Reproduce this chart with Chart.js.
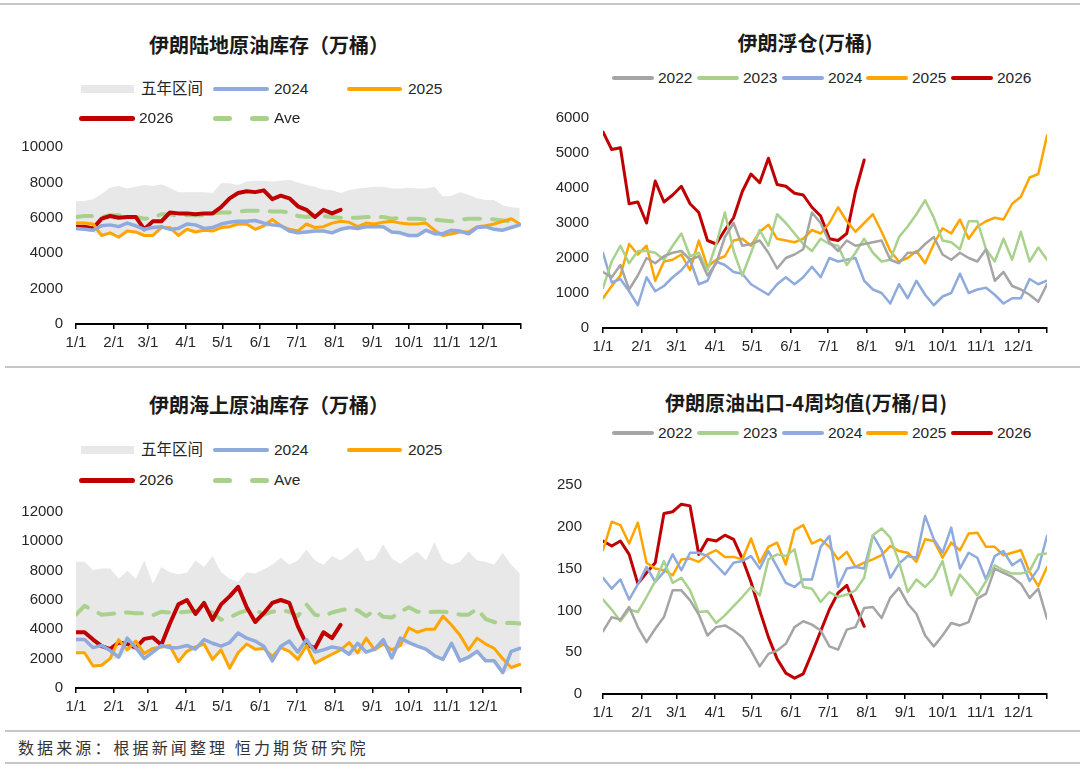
<!DOCTYPE html>
<html><head><meta charset="utf-8">
<script src="https://cdn.jsdelivr.net/npm/chart.js@4.4.1/dist/chart.umd.min.js"></script>
<style>
html,body{margin:0;padding:0;background:#fff;}
body{width:1080px;height:770px;position:relative;overflow:hidden;font-family:"Liberation Sans","Noto Sans CJK SC",sans-serif;color:#262626;}
.hl{position:absolute;left:5px;right:0;height:2px;background:#c6c6c6;}
.title{position:absolute;font-family:"Noto Sans CJK SC",sans-serif;font-weight:bold;font-size:20px;line-height:1;transform:translate(-50%,-50%);white-space:nowrap;color:#1a1a1a;}
.leg{position:absolute;font-family:"Liberation Sans","Noto Sans CJK SC",sans-serif;font-size:15.5px;line-height:1;transform:translateY(-50%);white-space:nowrap;color:#262626;}
.box{position:absolute;}
.src{position:absolute;left:18px;top:747px;transform:translateY(-50%);font-family:"Noto Sans CJK SC",sans-serif;font-size:16px;letter-spacing:3.1px;line-height:1;color:#333;white-space:nowrap;}
canvas{display:block;}
</style></head>
<body>
<div class="hl" style="top:3px;left:0"></div>
<div class="hl" style="top:366px"></div>
<div class="hl" style="top:730px"></div>
<div class="hl" style="top:762px"></div>

<div class="title" style="left:269px;top:45px">伊朗陆地原油库存（万桶）</div>
<div class="title" style="left:805px;top:43px">伊朗浮仓(万桶)</div>
<div class="title" style="left:269px;top:405px">伊朗海上原油库存（万桶）</div>
<div class="title" style="left:806px;top:403px">伊朗原油出口-4周均值(万桶/日)</div>
<div class="src">数据来源：根据新闻整理 恒力期货研究院</div>

<div class="box" style="left:0;top:125px"><canvas id="c1" width="540" height="240"></canvas></div>
<div class="box" style="left:545px;top:95px"><canvas id="c2" width="535" height="270"></canvas></div>
<div class="box" style="left:0;top:490px"><canvas id="c3" width="540" height="240"></canvas></div>
<div class="box" style="left:545px;top:455px"><canvas id="c4" width="535" height="275"></canvas></div>

<script>
// ---------- axis labels ----------
const monthLabels = ['1/1','2/1','3/1','4/1','5/1','6/1','7/1','8/1','9/1','10/1','11/1','12/1'];
const monthDays = [31,28,31,30,31,30,31,31,30,31,30,31];

// ---------- 伊朗陆地原油库存（万桶） weekly ----------
const landRangeMin = [5300,5250,5200,4950,5050,4850,5150,5100,4950,4950,5350,5300,4950,5300,5150,5250,5200,5350,5400,5550,5550,5250,5450,5500,5450,5150,5050,5100,5150,5150,5050,5250,5350,5300,5400,5400,5400,5100,5050,4900,4900,5200,5000,4900,5000,5100,5000,5350,5400,5250,5200,5350,5500];
const landRangeMax = [6950,6950,7050,7350,7700,7800,7650,7750,7850,7800,7900,7700,7450,7450,7450,7450,7400,7950,7950,7850,8050,8100,8100,8050,8100,8150,8000,7850,7750,7600,7550,7400,7550,7650,7700,7750,7750,7650,7650,7700,7650,7650,7750,7200,7250,7450,7300,7100,7000,7000,6700,6600,6550];
const land2024 = [5400,5350,5300,5550,5600,5500,5700,5550,5350,5450,5500,5350,5400,5650,5600,5400,5450,5650,5750,5800,5800,5850,5700,5600,5550,5250,5150,5200,5250,5250,5150,5350,5450,5400,5500,5500,5500,5200,5150,5000,5000,5300,5100,5100,5300,5250,5100,5450,5500,5350,5300,5450,5600];
const land2025 = [5700,5700,5650,5000,5150,4900,5250,5200,5000,5000,5450,5450,5000,5350,5200,5300,5250,5450,5500,5650,5650,5350,5550,5900,5550,5350,5250,5650,5450,5500,5700,5800,5750,5500,5700,5650,5750,5800,5700,5650,5650,5700,5300,5000,5100,5200,5200,5500,5550,5650,5800,5950,5650];
const land2026 = [5500,5500,5400,5950,6100,6000,6050,6050,5350,5800,5800,6300,6250,6250,6200,6250,6250,6600,7100,7400,7500,7450,7550,7050,7250,7100,6650,6450,6050,6450,6250,6450];
const landAve = [6050,6100,6100,6050,6150,6150,6000,6050,5950,6000,6200,6200,6100,6150,6150,6150,6250,6300,6300,6350,6400,6400,6400,6350,6350,6300,6100,6050,6100,6100,6050,6000,6000,6000,6050,6050,6050,5950,6000,5950,5950,5900,5900,5850,5800,5900,5950,5950,5950,5900,5850,5800,5700];

// ---------- 伊朗海上原油库存（万桶） weekly ----------
const seaRangeMin = [2300,2300,1400,1450,1900,2000,2500,2650,1900,2350,2700,2650,1700,2400,2550,2900,1850,2500,1250,2300,2900,2550,2600,1750,2650,2400,1850,2800,1600,1900,2200,2500,2200,2300,2350,2500,2900,1950,2800,3000,2750,2550,2100,1850,2950,1750,2000,2400,1750,1750,950,1300,1500];
const seaRangeMax = [8600,8600,8050,8150,8150,7450,8000,7450,8700,7100,8250,7900,7750,7850,8700,8250,9000,7900,7450,7250,7900,7800,8100,8400,8900,8400,8700,9450,8700,8400,9000,8700,9100,9600,8650,8800,9800,8850,8450,8900,9300,8700,9950,8700,8400,8600,9300,8700,8600,8400,9200,8400,7800];
const sea2024 = [3300,3300,2750,2900,2550,2100,3400,2750,2000,2450,2900,2750,2750,2900,2650,3300,3050,2850,3100,3750,3400,3200,2850,1850,2850,3200,2450,3300,2450,2600,2800,2700,2300,3050,2450,2650,3300,2050,3400,3100,2850,2650,2200,1950,3050,1850,2100,2500,1850,1850,1050,2500,2700];
const sea2025 = [2400,2400,1500,1550,2000,3300,2600,3200,2350,2700,2800,2900,1800,2500,2800,3000,1950,2600,1350,2400,3000,2650,2700,2150,2750,2500,1950,2900,1700,2000,2300,2600,3100,2400,3400,2600,3000,2600,2900,4100,3800,4000,4000,4900,4300,3600,2600,3400,3000,2700,2000,1400,1600];
const sea2026 = [3800,3800,3300,2850,2650,3100,3000,2750,3350,3450,2950,4400,5700,6000,5050,5800,4650,5700,6250,6900,5500,4500,5100,5800,6000,5800,4200,3000,2700,3800,3400,4300];
const seaAve = [5000,5600,5300,5000,5050,5100,5150,5100,5100,4950,5200,5150,5150,5200,5250,5300,5150,4650,4800,5100,5300,5350,5000,5200,5300,5200,4900,5700,5000,4900,5150,5300,5400,5300,4900,5300,4850,4800,5200,5500,5200,5150,5200,5200,5150,5000,5000,5400,4700,4500,4400,4450,4400];

// ---------- 伊朗浮仓（万桶） weekly ----------
const float2022 = [1600,1450,1800,1100,1500,2000,1850,2050,2150,2200,1950,2050,1500,1850,2600,3000,2350,2400,2500,2150,1700,2000,2100,2250,3300,3000,2450,2200,2500,2350,2400,2450,2500,1950,1850,2150,2150,2400,2600,2100,1950,2150,2000,1900,2250,1350,1600,1200,1100,950,750,1250];
const float2023 = [1150,1900,2350,1850,2200,2200,2150,1950,2350,2700,2050,2150,1650,2400,3300,2200,1500,2150,2800,2350,3250,3000,2700,2400,2200,2550,2400,2350,1800,2150,2550,2150,1900,1950,2600,2900,3250,3650,3150,2500,2450,2250,3050,3050,2250,1900,2550,1950,2750,1900,2300,1950];
const float2024 = [2150,1300,1400,1050,650,1450,1050,1200,1450,1650,1950,1250,1350,1900,1800,1600,1550,1250,1100,950,1250,1450,1250,1450,1750,1450,2000,1900,1950,2000,1350,1100,1000,700,1250,850,1350,950,650,900,1000,1550,1000,1100,1150,950,700,850,850,1400,1250,1350];
const float2025 = [850,1200,1500,2400,2100,2350,1350,1900,1950,2100,1650,2500,1750,1950,2050,2500,2550,2350,2750,2950,2550,2500,2450,2550,2800,2700,3000,3450,3050,2750,3000,3250,2750,2200,1900,2000,2200,1850,2400,2850,2700,3100,2550,2900,3050,3150,3100,3550,3750,4300,4400,5500];
const float2026 = [5600,5100,5150,3550,3600,3000,4200,3600,3800,4050,3550,3300,2500,2400,2800,3150,3900,4400,4150,4850,4100,4050,3850,3800,3450,3200,2550,2500,2700,3900,4800];

// ---------- 伊朗原油出口-4周均值（万桶/日） weekly ----------
const exp2022 = [75,92,89,104,80,62,78,92,124,124,112,95,70,80,82,76,68,52,33,48,52,60,80,87,83,76,57,53,77,80,103,104,91,115,127,108,96,70,57,70,85,82,86,114,120,150,145,140,132,115,126,90];
const exp2023 = [113,101,87,101,98,116,135,159,133,139,124,98,99,85,94,105,116,128,118,161,167,165,173,128,126,110,122,116,119,124,139,190,198,187,158,122,137,128,139,159,118,143,131,118,135,154,148,144,144,147,167,168];
const exp2024 = [139,126,137,113,131,152,134,146,167,148,169,169,165,154,143,157,159,165,150,171,152,133,128,137,137,176,189,128,150,152,150,190,172,139,156,165,163,213,185,169,199,150,169,163,137,165,171,154,161,135,150,189];
const exp2025 = [172,206,202,180,205,157,150,148,142,161,162,158,167,172,164,164,161,186,157,176,181,155,196,202,180,185,176,161,170,152,157,161,166,177,171,169,158,185,183,163,181,172,192,193,176,176,166,169,172,146,129,152];
const exp2026 = [183,177,183,167,132,145,157,216,218,227,225,167,185,183,190,185,162,134,100,68,42,25,19,24,49,75,101,121,130,105,81];

// ---------- styling ----------
const C = {gray:'#A5A5A5', green:'#A9D18E', blue:'#8FAADC', orange:'#FFA500', red:'#C00000', band:'#E8E8E8'};
const tickFont = {family:'"Liberation Sans", Arial, sans-serif', size:15};

// month-start positions in weeks
const monthStarts = [];
{ let d = 0; for (let i = 0; i < 12; i++) { monthStarts.push(d / 7); d += monthDays[i]; } }

const pts = arr => arr.map((v, i) => ({x: i, y: v}));
function line(arr, color, width, dash) {
  return {data: pts(arr), borderColor: color, borderWidth: width, borderDash: dash || [], pointRadius: 0, fill: false, tension: 0};
}

function makeChart(id, datasets, cfg) {
  const ticksVals = monthStarts.concat([cfg.xMax]);
  return new Chart(document.getElementById(id), {
    type: 'line',
    data: {datasets},
    options: {
      responsive: false, animation: false, events: [],
      layout: {padding: {top: cfg.padTop, right: cfg.padRight, bottom: 0, left: 0}},
      plugins: {legend: {display: false}, title: {display: false}, tooltip: {enabled: false},
                filler: {drawTime: 'beforeDatasetsDraw'}},
      elements: {line: {borderCapStyle: 'round', borderJoinStyle: 'round'}, point: {radius: 0}},
      scales: {
        x: {
          type: 'linear', min: 0, max: cfg.xMax,
          afterBuildTicks: s => { s.ticks = ticksVals.map(v => ({value: v})); },
          afterFit: s => { s.height = cfg.xH; },
          ticks: {autoSkip: false, maxRotation: 0, minRotation: 0, padding: 5, color: '#262626', font: tickFont,
                  callback: (v, i) => monthLabels[i] || ''},
          grid: {display: true, drawOnChartArea: false, drawTicks: true, tickLength: 5, color: '#000', lineWidth: 1.5},
          border: {display: true, color: '#000', width: 2}
        },
        y: {
          min: 0, max: cfg.yMax,
          afterFit: s => { s.width = cfg.yW; },
          ticks: {stepSize: cfg.step, padding: cfg.yPad, color: '#262626', font: tickFont,
                  callback: v => String(v)},
          grid: {display: false, drawTicks: false},
          border: {display: false}
        }
      }
    }
  });
}

const bandMinSet = arr => ({data: pts(arr), borderColor: 'rgba(0,0,0,0)', borderWidth: 1, pointRadius: 0, fill: false});
const bandMaxSet = arr => ({data: pts(arr), borderColor: 'rgba(0,0,0,0)', borderWidth: 1, pointRadius: 0, fill: '-1', backgroundColor: C.band});

makeChart('c1', [
  bandMinSet(landRangeMin), bandMaxSet(landRangeMax),
  line(land2024, C.blue, 3.5), line(land2025, C.orange, 3), line(land2026, C.red, 4),
  line(landAve, C.green, 4, [16, 12])
], {xMax: 365 / 7, yMax: 10000, step: 2000, padTop: 20, padRight: 19, yW: 76, xH: 41, yPad: 13});

makeChart('c2', [
  line(float2022, C.gray, 2.5), line(float2023, C.green, 2.5), line(float2024, C.blue, 2.5),
  line(float2025, C.orange, 2.5), line(float2026, C.red, 3)
], {xMax: 51, yMax: 6000, step: 1000, padTop: 18, padRight: 33, yW: 58, xH: 37, yPad: 14});

makeChart('c3', [
  bandMinSet(seaRangeMin), bandMaxSet(seaRangeMax),
  line(sea2024, C.blue, 3.5), line(sea2025, C.orange, 3), line(sea2026, C.red, 4),
  line(seaAve, C.green, 4, [16, 12])
], {xMax: 365 / 7, yMax: 12000, step: 2000, padTop: 14, padRight: 19, yW: 76, xH: 42, yPad: 13});

makeChart('c4', [
  line(exp2022, C.gray, 2.5), line(exp2023, C.green, 2.5), line(exp2024, C.blue, 2.5),
  line(exp2025, C.orange, 2.5), line(exp2026, C.red, 3)
], {xMax: 51, yMax: 250, step: 50, padTop: 16, padRight: 33, yW: 58, xH: 36, yPad: 21});

// ---------- legends (HTML) ----------
function sw(x1, x2, y, h, color, round) {
  const d = document.createElement('div');
  d.style.cssText = `position:absolute;left:${x1}px;top:${y - h / 2}px;width:${x2 - x1}px;height:${h}px;background:${color};border-radius:${round ? h / 2 : 0}px`;
  document.body.appendChild(d);
}
function tx(x, y, text) {
  const d = document.createElement('div');
  d.className = 'leg'; d.style.left = x + 'px'; d.style.top = y + 'px'; d.textContent = text;
  document.body.appendChild(d);
}
function leftLegend(y1, y2) {
  sw(81, 134, y1, 8, C.band, false); tx(141, y1, '五年区间');
  sw(213, 269, y1, 4.5, C.blue, true); tx(274, y1, '2024');
  sw(347, 402, y1, 4.5, C.orange, true); tx(408, y1, '2025');
  sw(79, 135, y2, 5, C.red, true); tx(139, y2, '2026');
  sw(213, 232, y2, 5, C.green, true); sw(250, 269, y2, 5, C.green, true); tx(274, y2, 'Ave');
}
function rightLegend(y) {
  const names = ['2022', '2023', '2024', '2025', '2026'];
  const cols = [C.gray, C.green, C.blue, C.orange, C.red];
  const xs = [612, 697, 782, 866, 951];
  names.forEach((n, i) => { sw(xs[i], xs[i] + 42, y, i === 4 ? 4.5 : 4, cols[i], true); tx(xs[i] + 46, y, n); });
}
leftLegend(89, 118);
leftLegend(450, 480);
rightLegend(78);
rightLegend(433);
</script>
</body></html>
